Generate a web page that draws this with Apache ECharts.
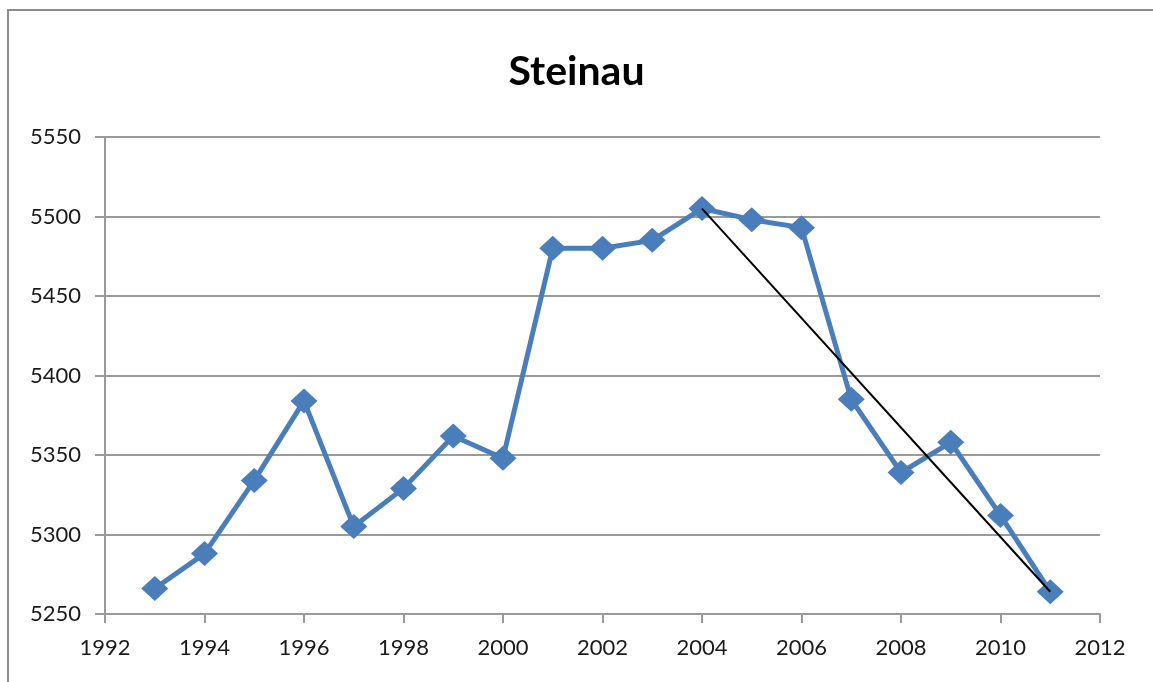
<!DOCTYPE html>
<html>
<head>
<meta charset="utf-8">
<title>Steinau</title>
<script src="https://cdn.jsdelivr.net/npm/echarts@6/dist/echarts.min.js"></script>
<style>
  html, body { margin: 0; padding: 0; background: #fff; }
  #chart { width: 1153px; height: 682px; }
</style>
</head>
<body>
<div id="chart"></div>
<script>
  // population values
  var years = [1993, 1994, 1995, 1996, 1997, 1998, 1999, 2000, 2001, 2002,
    2003, 2004, 2005, 2006, 2007, 2008, 2009, 2010, 2011]
  var population = [5266, 5288, 5334, 5384, 5305, 5329, 5362, 5348, 5480, 5480,
    5485, 5505, 5498, 5493, 5385, 5339, 5358, 5312, 5264]
  // thin black trend line
  var trendYears = [2004, 2011]
  var trendValues = [5505, 5264]

  var chart = echarts.init(document.getElementById('chart'))
  var axisText = {
    color: '#1a1a1a',
    fontSize: 22,
    fontFamily: 'Lato',
    formatter: function (v) { return String(v) }
  }
  chart.setOption({
    animation: false,
    backgroundColor: '#fff',
    graphic: [{
      type: 'rect',
      shape: { x: 8, y: 10, width: 1200, height: 700 },
      style: { fill: 'none', stroke: '#8c8c8c', lineWidth: 2 },
      silent: true
    }],
    title: {
      text: 'Steinau',
      left: 'center',
      top: 46,
      textStyle: {
        fontSize: 41,
        fontWeight: 'bold',
        fontFamily: 'Lato',
        color: '#000'
      }
    },
    grid: {
      left: 105,
      right: 53,
      top: 137,
      bottom: 68
    },
    xAxis: {
      type: 'value',
      min: 1992,
      max: 2012,
      interval: 2,
      axisLine: { show: true, lineStyle: { color: '#9a9a9a', width: 2 } },
      axisTick: { show: true, length: 9, lineStyle: { color: '#9a9a9a', width: 2 } },
      axisLabel: Object.assign({ margin: 23 }, axisText),
      splitLine: { show: false }
    },
    yAxis: {
      type: 'value',
      min: 5250,
      max: 5550,
      interval: 50,
      axisLine: { show: true, lineStyle: { color: '#9a9a9a', width: 2 } },
      axisTick: { show: true, length: 10, lineStyle: { color: '#9a9a9a', width: 2 } },
      axisLabel: Object.assign({ margin: 24 }, axisText),
      splitLine: { show: true, lineStyle: { color: '#9a9a9a', width: 2 } }
    },
    series: [
      {
        name: 'Steinau',
        type: 'line',
        data: years.map(function (y, i) { return [y, population[i]] }),
        symbol: 'diamond',
        symbolSize: [27, 25],
        lineStyle: { color: '#4a7ebb', width: 5 },
        itemStyle: { color: '#4a7ebb' },
        z: 2
      },
      {
        name: 'Trend',
        type: 'line',
        data: trendYears.map(function (y, i) { return [y, trendValues[i]] }),
        symbol: 'none',
        lineStyle: { color: '#000', width: 2 },
        z: 3
      }
    ]
  })
</script>
</body>
</html>
